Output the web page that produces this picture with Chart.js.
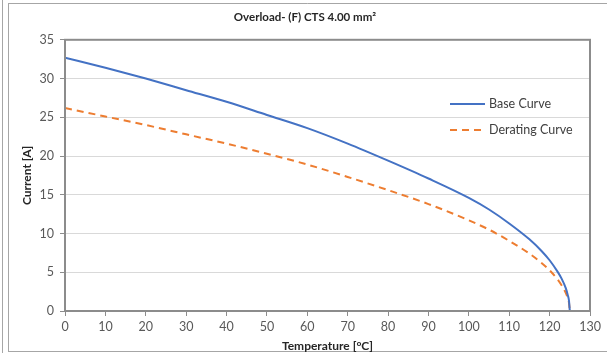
<!DOCTYPE html>
<html>
<head>
<meta charset="utf-8">
<script src="https://cdn.jsdelivr.net/npm/chart.js@4/dist/chart.umd.min.js"></script>
<style>
  html, body { margin: 0; padding: 0; background: #fff; }
  #wrap { position: relative; width: 607px; height: 353px; }
</style>
</head>
<body>
<div id="wrap"><canvas id="overloadChart" width="607" height="353"></canvas></div>
<script>
// temperature points [°C]
const temps = [0, 10, 20, 30, 40, 50, 60, 70, 80, 90, 100, 105, 110, 115, 118, 120, 122, 123, 124, 124.5, 124.8, 125];
// current [A]
const baseCurve = [32.7, 31.4, 30.0, 28.5, 27.0, 25.3, 23.6, 21.6, 19.4, 17.1, 14.6, 13.1, 11.3, 9.25, 7.75, 6.55, 5.05, 4.15, 2.95, 2.05, 1.3, 0];
const deratingCurve = [26.2, 25.1, 24.0, 22.8, 21.6, 20.3, 18.9, 17.3, 15.6, 13.8, 11.7, 10.5, 9.05, 7.4, 6.2, 5.25, 4.05, 3.3, 2.35, 1.65, 1.05, 0];
const xTicks = [0, 10, 20, 30, 40, 50, 60, 70, 80, 90, 100, 110, 120, 130];
const yTicks = [0, 5, 10, 15, 20, 25, 30, 35];

const FONT = "Lato, 'Open Sans', sans-serif";
const toPoints = (ys) => temps.map((t, i) => ({ x: t, y: ys[i] }));

// outer frame, plot border and inline legend
const decor = {
    id: 'decor',
    beforeDraw(chart) {
        const c = chart.ctx;
        c.save();
        c.strokeStyle = '#a6a6a6';
        c.lineWidth = 1;
        c.beginPath();
        c.moveTo(2.5, 0); c.lineTo(2.5, 353);
        c.moveTo(8.5, 3); c.lineTo(8.5, 352);
        c.moveTo(8.5, 3.5); c.lineTo(607, 3.5);
        c.moveTo(8.5, 351.5); c.lineTo(607, 351.5);
        c.stroke();
        c.restore();
    },
    afterDatasetsDraw(chart) {
        const c = chart.ctx;
        const a = chart.chartArea;
        c.save();
        c.strokeStyle = '#8c8c8c';
        c.lineWidth = 2;
        c.strokeRect(a.left, a.top, a.right - a.left, a.bottom - a.top);

        c.font = '12.5px ' + FONT;
        c.fillStyle = '#404040';
        c.textBaseline = 'middle';
        chart.data.datasets.forEach((ds, i) => {
            const y = 104 + i * 26;
            c.strokeStyle = ds.borderColor;
            c.lineWidth = 2;
            c.setLineDash(ds.borderDash || []);
            c.beginPath();
            c.moveTo(450, y);
            c.lineTo(485, y);
            c.stroke();
            c.fillText(ds.label, 489, y);
        });
        c.restore();
    }
};

new Chart(document.getElementById('overloadChart'), {
    type: 'scatter',
    data: {
        datasets: [
            {
                label: 'Base Curve',
                data: toPoints(baseCurve),
                showLine: true,
                borderColor: '#4472c4',
                borderWidth: 2,
                pointRadius: 0,
                cubicInterpolationMode: 'monotone'
            },
            {
                label: 'Derating Curve',
                data: toPoints(deratingCurve),
                showLine: true,
                borderColor: '#ed7d31',
                borderWidth: 2,
                borderDash: [7, 5],
                pointRadius: 0,
                cubicInterpolationMode: 'monotone'
            }
        ]
    },
    options: {
        responsive: false,
        animation: false,
        layout: { padding: { left: 20, right: 17, top: 0, bottom: 0 } },
        scales: {
            x: {
                type: 'linear',
                min: 0,
                max: 130,
                afterBuildTicks: (s) => { s.ticks = xTicks.map(v => ({ value: v })); },
                afterFit: (s) => { s.height = 42; },
                grid: { drawOnChartArea: false, tickLength: 5, color: '#8c8c8c' },
                border: { color: '#8c8c8c', width: 2 },
                ticks: { color: '#595959', font: { family: FONT, size: 12.5 }, padding: 3, maxRotation: 0 },
                title: {
                    display: true,
                    text: 'Temperature [°C]',
                    color: '#262626',
                    font: { family: FONT, size: 12, weight: 'bold' },
                    padding: { top: -1, bottom: 0 }
                }
            },
            y: {
                min: 0,
                max: 35,
                afterBuildTicks: (s) => { s.ticks = yTicks.map(v => ({ value: v })); },
                afterFit: (s) => { s.width = 45; },
                grid: { color: '#d9d9d9', tickColor: '#8c8c8c', tickLength: 5 },
                border: { color: '#8c8c8c', width: 2 },
                ticks: { color: '#595959', font: { family: FONT, size: 12.5 }, padding: 6 },
                title: {
                    display: true,
                    text: 'Current [A]',
                    color: '#262626',
                    font: { family: FONT, size: 12, weight: 'bold' },
                    padding: { top: 0, bottom: 2 }
                }
            }
        },
        plugins: {
            legend: { display: false },
            tooltip: { enabled: false },
            title: {
                display: true,
                text: 'Overload- (F) CTS 4.00 mm²',
                color: '#262626',
                font: { family: FONT, size: 11.5, weight: 'bold' },
                padding: { top: 10, bottom: 16 }
            }
        }
    },
    plugins: [decor]
});
</script>
</body>
</html>
